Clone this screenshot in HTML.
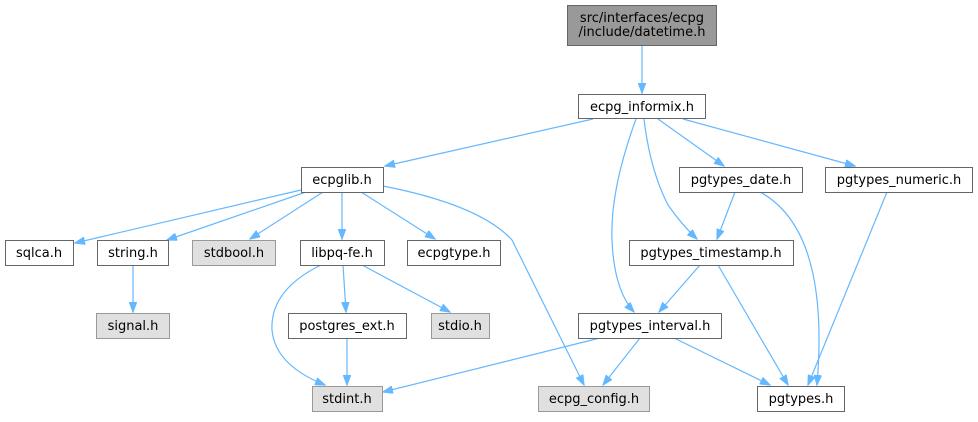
<!DOCTYPE html>
<html><head><meta charset="utf-8"><style>
html,body{margin:0;padding:0;background:#fff;}
svg text{font-family:"DejaVu Sans","Liberation Sans",sans-serif;font-size:13px;fill:#000;text-anchor:middle;}
</style></head><body>
<svg width="978" height="417" viewBox="0 0 978 417" xmlns="http://www.w3.org/2000/svg">
<defs><marker id="a" markerWidth="11" markerHeight="8" refX="10" refY="4" orient="auto" markerUnits="userSpaceOnUse"><path d="M0,0 L11,4 L0,8 z" fill="#63b8ff" stroke="#63b8ff" stroke-width="0.5"/></marker></defs>
<g fill="none" stroke="#63b8ff" stroke-width="1.2" marker-end="url(#a)">
<path d="M642,45 L642,93"/>
<path d="M593,119 L385,166"/>
<path d="M636,119 Q610,190 612,240 Q614,290 634,312"/>
<path d="M644,119 Q650,170 668,205 Q682,225 697,239"/>
<path d="M658,119 L724,166"/>
<path d="M683,119 L855,166"/>
<path d="M735,192 L717,239"/>
<path d="M760,192 Q830,230 817,385"/>
<path d="M887,192 L808,385"/>
<path d="M700,265 L659,312"/>
<path d="M718,265 L788,385"/>
<path d="M640,338 L603,385"/>
<path d="M674,338 L770,385"/>
<path d="M600,338 L383,392"/>
<path d="M301,190 L75,243"/>
<path d="M306,192 L167,240"/>
<path d="M323,192 L250,239"/>
<path d="M342,192 L342,239"/>
<path d="M361,192 L435,239"/>
<path d="M383,186 Q480,205 512,240 L584,385"/>
<path d="M321,265 Q270,290 272,330 Q275,365 325,385"/>
<path d="M133,265 L133,312"/>
<path d="M343,265 L346,312"/>
<path d="M362,265 L450,312"/>
<path d="M347,338 L347,385"/>
</g>
<g stroke-width="1">
<rect x="567.5" y="5.5" width="149" height="40" fill="#999" stroke="#666"/>
<rect x="578.5" y="94.5" width="127" height="24" fill="#fff" stroke="#666"/>
<rect x="301.5" y="167.5" width="82" height="25" fill="#fff" stroke="#666"/>
<rect x="679.5" y="167.5" width="123" height="25" fill="#fff" stroke="#666"/>
<rect x="825.5" y="167.5" width="147" height="25" fill="#fff" stroke="#666"/>
<rect x="5.5" y="240.5" width="68" height="25" fill="#fff" stroke="#666"/>
<rect x="97.5" y="240.5" width="71" height="25" fill="#fff" stroke="#666"/>
<rect x="192.5" y="240.5" width="83" height="25" fill="#e0e0e0" stroke="#999"/>
<rect x="300.5" y="240.5" width="84" height="25" fill="#fff" stroke="#666"/>
<rect x="407.5" y="240.5" width="93" height="25" fill="#fff" stroke="#666"/>
<rect x="629.5" y="240.5" width="164" height="25" fill="#fff" stroke="#666"/>
<rect x="96.5" y="313.5" width="73" height="25" fill="#e0e0e0" stroke="#999"/>
<rect x="288.5" y="313.5" width="118" height="25" fill="#fff" stroke="#666"/>
<rect x="431.5" y="313.5" width="58" height="25" fill="#e0e0e0" stroke="#999"/>
<rect x="578.5" y="313.5" width="143" height="25" fill="#fff" stroke="#666"/>
<rect x="312.5" y="386.5" width="70" height="25" fill="#e0e0e0" stroke="#999"/>
<rect x="538.5" y="386.5" width="111" height="25" fill="#e0e0e0" stroke="#999"/>
<rect x="757.5" y="386.5" width="87" height="25" fill="#fff" stroke="#666"/>
</g>
<text x="642" y="22">src/interfaces/ecpg</text>
<text x="642" y="36">/include/datetime.h</text>
<text x="642" y="111">ecpg_informix.h</text>
<text x="342" y="184">ecpglib.h</text>
<text x="741" y="184">pgtypes_date.h</text>
<text x="899" y="184">pgtypes_numeric.h</text>
<text x="39" y="257">sqlca.h</text>
<text x="133" y="257">string.h</text>
<text x="234" y="257">stdbool.h</text>
<text x="342" y="257">libpq-fe.h</text>
<text x="454" y="257">ecpgtype.h</text>
<text x="711" y="257">pgtypes_timestamp.h</text>
<text x="133" y="330">signal.h</text>
<text x="347" y="330">postgres_ext.h</text>
<text x="460" y="330">stdio.h</text>
<text x="650" y="330">pgtypes_interval.h</text>
<text x="347" y="403">stdint.h</text>
<text x="594" y="403">ecpg_config.h</text>
<text x="801" y="403">pgtypes.h</text>
</svg>
</body></html>
